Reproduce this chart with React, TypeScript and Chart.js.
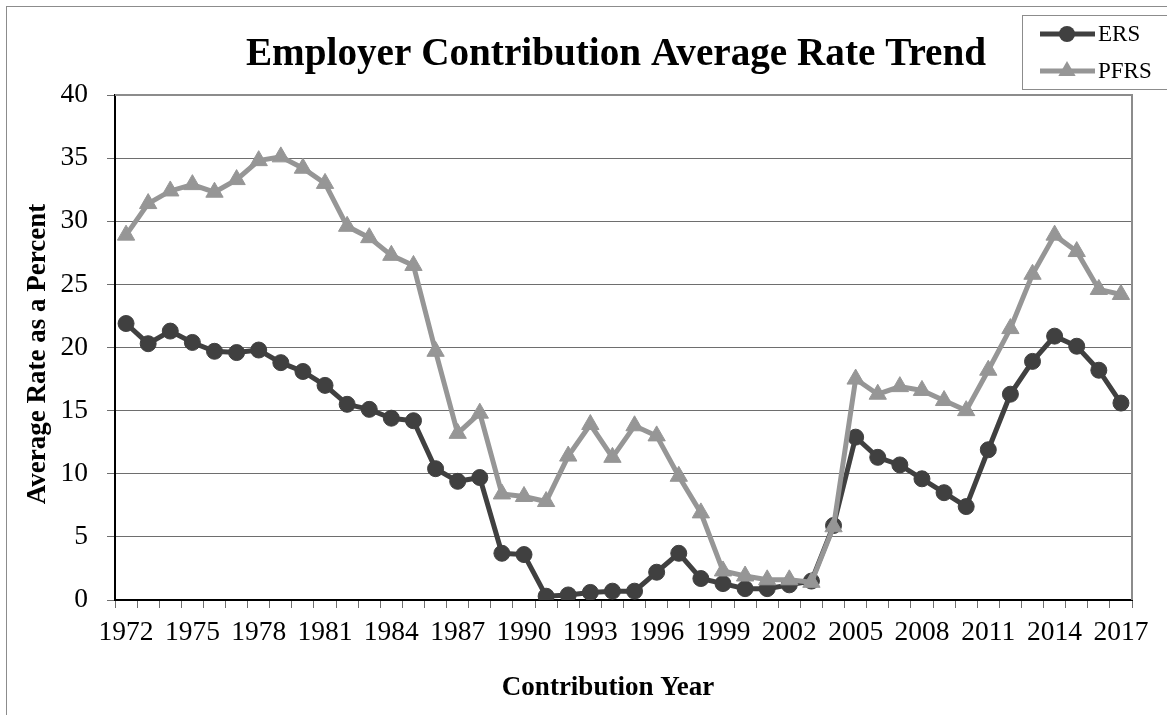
import React, { useEffect, useRef } from "react";
import { Chart, registerables } from "chart.js";

Chart.register(...registerables);

const chartTitle = "Employer Contribution Average Rate Trend";
const xAxisTitle = "Contribution Year";
const yAxisTitle = "Average Rate as a Percent";

const years = [
  "1972", "1973", "1974", "1975", "1976", "1977", "1978", "1979", "1980", "1981",
  "1982", "1983", "1984", "1985", "1986", "1987", "1988", "1989", "1990", "1991",
  "1992", "1993", "1994", "1995", "1996", "1997", "1998", "1999", "2000", "2001",
  "2002", "2003", "2004", "2005", "2006", "2007", "2008", "2009", "2010", "2011",
  "2012", "2013", "2014", "2015", "2016", "2017",
];

const xTickLabels = [
  "1972", "1975", "1978", "1981", "1984", "1987", "1990", "1993",
  "1996", "1999", "2002", "2005", "2008", "2011", "2014", "2017",
];

const ersValues = [
  21.9, 20.3, 21.3, 20.4, 19.7, 19.6, 19.8, 18.8, 18.1, 17.0,
  15.5, 15.1, 14.4, 14.2, 10.4, 9.4, 9.7, 3.7, 3.6, 0.3,
  0.4, 0.6, 0.7, 0.7, 2.2, 3.7, 1.7, 1.3, 0.9, 0.9,
  1.2, 1.5, 5.9, 12.9, 11.3, 10.7, 9.6, 8.5, 7.4, 11.9,
  16.3, 18.9, 20.9, 20.1, 18.2, 15.6,
];

const pfrsValues = [
  28.9, 31.4, 32.4, 32.9, 32.3, 33.3, 34.8, 35.1, 34.2, 33.0,
  29.6, 28.7, 27.3, 26.5, 19.7, 13.2, 14.8, 8.4, 8.2, 7.8,
  11.4, 13.9, 11.3, 13.8, 13.0, 9.8, 6.9, 2.3, 1.9, 1.6,
  1.6, 1.4, 5.8, 17.5, 16.3, 16.9, 16.6, 15.8, 15.0, 18.2,
  21.5, 25.8, 28.9, 27.6, 24.6, 24.2,
];

const yMin = 0;
const yMax = 40;
const yStep = 5;

const FONT = '"Liberation Serif", "Times New Roman", serif';
const ERS_COLOR = "#404040";
const PFRS_COLOR = "#969696";
const GRID_COLOR = "#6e6e6e";
const FRAME_COLOR = "#8c8c8c";

export default function App() {
  const ref = useRef<HTMLCanvasElement | null>(null);

  useEffect(() => {
    if (!ref.current) return;

    const decor = {
      id: "decor",
      beforeDatasetsDraw(chart: any) {
        const { ctx, chartArea: a } = chart;
        ctx.save();
        ctx.strokeStyle = FRAME_COLOR;
        ctx.lineWidth = 2;
        ctx.beginPath();
        ctx.moveTo(a.left, a.top);
        ctx.lineTo(a.right, a.top);
        ctx.lineTo(a.right, a.bottom);
        ctx.stroke();
        ctx.restore();
      },
      afterDraw(chart: any) {
        const { ctx } = chart;
        ctx.save();
        // outer frame
        ctx.strokeStyle = FRAME_COLOR;
        ctx.lineWidth = 1;
        ctx.strokeRect(6.5, 6.5, 1300, 900);

        // title
        ctx.fillStyle = "#000";
        ctx.textAlign = "center";
        ctx.textBaseline = "middle";
        ctx.font = `bold 39.2px ${FONT}`;
        ctx.fillText(chartTitle, 616, 55);

        // axis titles
        ctx.font = `bold 27px ${FONT}`;
        ctx.fillText(xAxisTitle, 608, 688);
        ctx.save();
        ctx.translate(38.5, 354);
        ctx.rotate(-Math.PI / 2);
        ctx.fillText(yAxisTitle, 0, 0);
        ctx.restore();

        // legend
        const lx = 1022.5;
        const ly = 15.5;
        ctx.fillStyle = "#fff";
        ctx.fillRect(lx, ly, 200, 74);
        ctx.strokeStyle = FRAME_COLOR;
        ctx.lineWidth = 1;
        ctx.strokeRect(lx, ly, 200, 74);
        const rows = [34, 71];
        chart.data.datasets.forEach((ds: any, i: number) => {
          const y = rows[i];
          ctx.strokeStyle = ds.borderColor;
          ctx.lineWidth = ds.borderWidth;
          ctx.beginPath();
          ctx.moveTo(1040, y);
          ctx.lineTo(1095, y);
          ctx.stroke();
          ctx.fillStyle = ds.pointBackgroundColor;
          ctx.beginPath();
          if (ds.pointStyle === "triangle") {
            const r = ds.pointRadius;
            ctx.moveTo(1067, y - r);
            ctx.lineTo(1067 + r * 0.866, y + r / 2);
            ctx.lineTo(1067 - r * 0.866, y + r / 2);
            ctx.closePath();
          } else {
            ctx.arc(1067, y, ds.pointRadius, 0, Math.PI * 2);
          }
          ctx.fill();
          ctx.fillStyle = "#000";
          ctx.textAlign = "left";
          ctx.textBaseline = "middle";
          ctx.font = `23px ${FONT}`;
          ctx.fillText(ds.label, 1098, y + 1);
        });
        ctx.restore();
      },
    };

    const chart = new Chart(ref.current, {
      type: "line",
      data: {
        labels: years,
        datasets: [
          {
            label: "ERS",
            data: ersValues,
            borderColor: ERS_COLOR,
            backgroundColor: ERS_COLOR,
            pointBackgroundColor: ERS_COLOR,
            pointBorderColor: ERS_COLOR,
            borderWidth: 5,
            pointStyle: "circle",
            pointRadius: 8,
            pointBorderWidth: 1,
            tension: 0,
            order: 2,
          } as any,
          {
            label: "PFRS",
            data: pfrsValues,
            borderColor: PFRS_COLOR,
            backgroundColor: PFRS_COLOR,
            pointBackgroundColor: PFRS_COLOR,
            pointBorderColor: PFRS_COLOR,
            borderWidth: 5,
            pointStyle: "triangle",
            pointRadius: 10,
            pointBorderWidth: 1,
            tension: 0,
            order: 1,
          } as any,
        ],
      },
      options: {
        responsive: false,
        animation: false,
        layout: { padding: { top: 95, left: 0, right: 35, bottom: 0 } },
        plugins: {
          legend: { display: false },
          title: { display: false },
          tooltip: { enabled: false },
        },
        scales: {
          x: {
            type: "category",
            offset: true,
            afterFit(scale: any) {
              scale.height = 115;
            },
            grid: {
              display: true,
              drawOnChartArea: false,
              drawTicks: true,
              tickLength: 8,
              offset: true,
              tickColor: GRID_COLOR,
            },
            border: { display: true, color: "#000", width: 2 },
            ticks: {
              autoSkip: false,
              maxRotation: 0,
              minRotation: 0,
              padding: 8,
              color: "#000",
              font: { family: FONT, size: 27.5 },
              callback(_v: any, index: number) {
                const lab = years[index];
                return xTickLabels.includes(lab) ? lab : "";
              },
            },
          },
          y: {
            min: yMin,
            max: yMax,
            afterFit(scale: any) {
              scale.width = 115;
            },
            grid: {
              color: GRID_COLOR,
              lineWidth: 1,
              drawTicks: true,
              tickLength: 8,
              tickColor: GRID_COLOR,
            },
            border: { display: true, color: "#000", width: 2 },
            ticks: {
              stepSize: yStep,
              padding: 19,
              color: "#000",
              font: { family: FONT, size: 27.5 },
            },
          },
        },
      },
      plugins: [decor],
    });

    return () => chart.destroy();
  }, []);

  return (
    <div style={{ position: "absolute", left: 0, top: 0, width: 1167, height: 715, background: "#fff" }}>
      <canvas ref={ref} width={1167} height={715} style={{ display: "block" }} />
    </div>
  );
}
